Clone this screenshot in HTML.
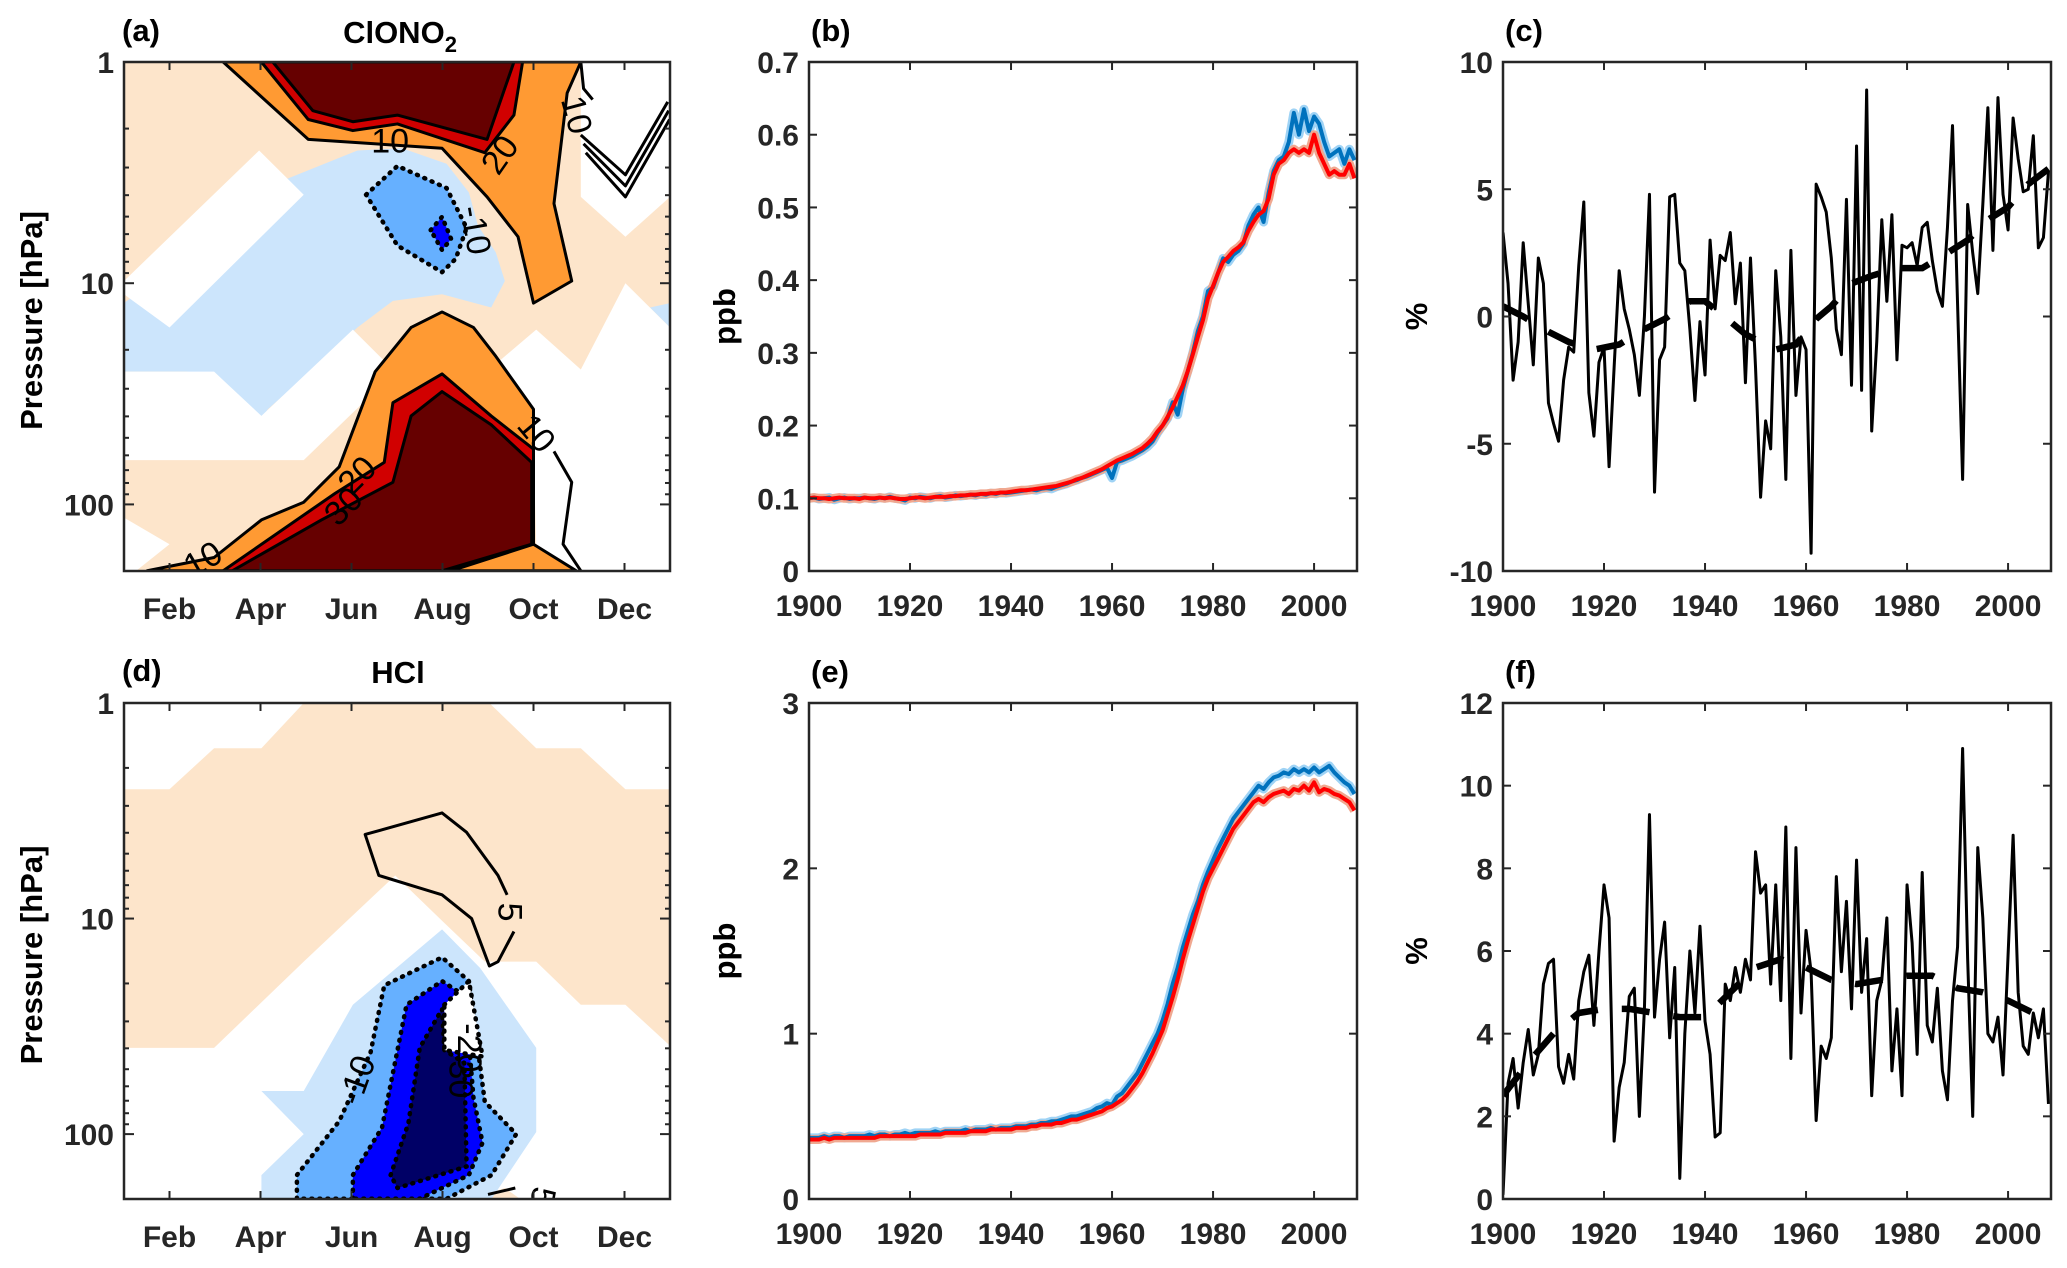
<!DOCTYPE html>
<html><head><meta charset="utf-8">
<style>
html,body{margin:0;padding:0;background:#fff;}
svg{display:block;font-family:"Liberation Sans",Arial,sans-serif;}
.tk{font-size:30px;font-weight:bold;fill:#262626;}
.lab{font-size:31px;font-weight:bold;fill:#000;}
.cl{font-size:34px;fill:#000;}
</style></head>
<body>
<svg id="fig" width="2067" height="1268" viewBox="0 0 2067 1268" xmlns="http://www.w3.org/2000/svg"></svg>
<script>
// ---------- data: time series (1900..2008) ----------
const years0 = 1900;
const bBlue = [.100,.101,.099,.100,.101,.098,.100,.101,.099,.100,
 .100,.101,.100,.099,.101,.100,.102,.100,.099,.097,
 .101,.100,.102,.101,.100,.102,.103,.101,.102,.104,
 .103,.104,.105,.104,.106,.105,.107,.106,.108,.107,
 .108,.109,.110,.111,.112,.111,.113,.114,.113,.116,
 .118,.120,.123,.125,.128,.130,.133,.136,.139,.142,
 .128,.150,.152,.155,.158,.162,.166,.171,.178,.190,
 .200,.210,.232,.215,.250,.275,.300,.330,.350,.385,
 .390,.410,.430,.425,.435,.440,.450,.475,.490,.500,
 .480,.520,.550,.565,.570,.590,.630,.600,.635,.605,
 .625,.615,.590,.570,.575,.580,.560,.580,.565];
const bRed = [.100,.101,.100,.100,.099,.100,.101,.100,.100,.100,
 .099,.101,.100,.100,.101,.100,.101,.100,.099,.099,
 .100,.101,.101,.100,.101,.102,.102,.102,.103,.103,
 .104,.104,.105,.105,.106,.106,.107,.107,.108,.108,
 .109,.110,.111,.111,.112,.113,.114,.115,.116,.117,
 .119,.121,.123,.126,.128,.131,.134,.137,.140,.144,
 .148,.152,.155,.158,.161,.165,.169,.175,.182,.192,
 .200,.212,.225,.240,.255,.275,.298,.322,.345,.375,
 .392,.410,.425,.432,.440,.445,.452,.468,.480,.490,
 .495,.512,.545,.560,.565,.575,.580,.575,.580,.575,
 .600,.575,.560,.545,.550,.545,.545,.560,.540];
const eBlue = [.37,.37,.37,.38,.37,.38,.38,.37,.38,.38,
 .38,.38,.39,.38,.39,.39,.38,.39,.39,.40,
 .39,.40,.40,.40,.40,.41,.40,.41,.41,.41,
 .41,.42,.41,.42,.42,.42,.43,.42,.43,.43,
 .43,.44,.44,.44,.45,.45,.46,.46,.47,.47,
 .48,.49,.50,.50,.51,.52,.53,.55,.56,.58,
 .57,.62,.64,.68,.72,.76,.82,.88,.94,1.00,
 1.08,1.18,1.30,1.40,1.52,1.62,1.72,1.80,1.90,1.98,
 2.05,2.12,2.18,2.24,2.30,2.34,2.38,2.42,2.46,2.50,
 2.48,2.52,2.55,2.56,2.58,2.57,2.60,2.58,2.60,2.58,
 2.61,2.58,2.60,2.62,2.58,2.55,2.52,2.50,2.45];
const eRed = [.36,.36,.36,.37,.36,.37,.37,.37,.37,.37,
 .37,.37,.37,.37,.38,.38,.38,.38,.38,.38,
 .38,.38,.39,.39,.39,.39,.39,.40,.40,.40,
 .40,.40,.41,.41,.41,.41,.42,.42,.42,.42,
 .42,.43,.43,.43,.44,.44,.45,.45,.45,.46,
 .46,.47,.48,.48,.49,.50,.51,.52,.53,.55,
 .56,.58,.60,.63,.67,.71,.76,.82,.88,.95,
 1.02,1.12,1.22,1.33,1.45,1.56,1.66,1.76,1.86,1.94,
 2.00,2.06,2.12,2.18,2.24,2.28,2.32,2.36,2.40,2.42,
 2.40,2.43,2.45,2.46,2.47,2.45,2.48,2.47,2.50,2.47,
 2.52,2.46,2.48,2.47,2.45,2.44,2.42,2.40,2.35];
const cVals = [3.3,1.3,-2.5,-1.0,2.9,0.5,-1.9,2.3,1.3,-3.4,
 -4.2,-4.9,-2.5,-1.2,-1.4,2.0,4.5,-3.0,-4.7,-1.8,
 -1.2,-5.9,-2.0,1.8,0.3,-0.5,-1.5,-3.1,0.0,4.8,
 -6.9,-1.7,-1.2,4.7,4.8,2.1,1.8,-0.5,-3.3,-0.2,
 -2.3,3.0,0.3,2.4,2.2,3.3,0.5,2.1,-2.6,2.3,
 -2.0,-7.1,-4.1,-5.2,1.8,-0.8,-6.4,2.6,-3.1,-0.8,
 -1.3,-9.3,5.2,4.7,4.1,2.3,-0.5,-1.5,4.6,-2.7,
 6.7,-2.9,8.9,-4.5,-1.0,3.8,0.6,4.0,-1.7,2.8,
 2.7,2.9,2.0,3.5,3.7,2.2,1.0,0.4,3.5,7.5,
 0.5,-6.4,4.4,2.5,0.9,4.4,8.2,2.6,8.6,4.8,
 3.4,7.8,6.2,4.9,5.0,7.1,2.7,3.1,5.7];
const cTrendYears = [1900,1904,1909,1913,1918,1923,1928,1932,1937,1940,1945,1948,1954,1958,1962,1965,1969,1973,1978,1983,1988,1992,1996,2000,2004,2008];
const cTrendVals  = [0.4,0.0,-0.6,-1.0,-1.3,-1.1,-0.5,-0.1,0.6,0.6,-0.2,-0.7,-1.3,-1.1,-0.1,0.4,1.3,1.6,1.9,1.9,2.5,3.0,3.8,4.3,5.2,5.8];
const fVals = [0.1,2.8,3.4,2.2,3.3,4.1,3.0,3.5,5.2,5.7,
 5.8,3.2,2.8,3.5,2.9,4.8,5.5,5.9,4.2,6.0,
 7.6,6.8,1.4,2.7,3.3,4.9,5.1,2.0,4.6,9.3,
 4.4,5.8,6.7,3.9,5.6,0.5,4.0,6.0,4.5,6.6,
 4.3,3.5,1.5,1.6,5.2,4.8,5.6,5.0,5.8,5.3,
 8.4,7.4,7.6,5.2,7.6,4.8,9.0,3.4,8.5,4.5,
 6.5,5.5,1.9,3.7,3.4,3.9,7.8,5.5,7.2,4.6,
 8.2,5.0,6.3,2.5,4.8,5.3,6.8,3.1,4.6,2.5,
 7.6,6.2,3.5,7.9,4.2,3.8,5.1,3.1,2.4,4.8,
 6.1,10.9,5.8,2.0,8.5,6.8,4.0,3.8,4.4,3.0,
 5.9,8.8,5.0,3.7,3.5,4.5,3.9,4.6,2.3];
const fTrendYears = [1900,1905,1910,1915,1920,1925,1930,1935,1940,1945,1950,1955,1960,1965,1970,1975,1980,1985,1990,1995,2000,2005,2008];
const fTrendVals  = [2.5,3.3,4.0,4.5,4.6,4.6,4.5,4.4,4.4,5.0,5.6,5.8,5.6,5.3,5.2,5.3,5.4,5.4,5.1,5.0,4.8,4.5,4.3];
const yearTicks = [1900,1920,1940,1960,1980,2000];
const bTicks = [0,0.1,0.2,0.3,0.4,0.5,0.6,0.7];
const eTicks = [0,1,2,3];
const cTicks = [-10,-5,0,5,10];
const fTicks = [0,2,4,6,8,10,12];
const monthTicks = [2,4,6,8,10,12];
const monthLabels = ['Feb','Apr','Jun','Aug','Oct','Dec'];
const pTicks = [1,10,100];

// ---------- data: contour regions [month, log10(p)] ----------
const aLightBlue = [[1,1.09],[4.56,0.53],[6.13,0.40],[7.11,0.39],[8.09,0.46],[8.58,0.59],[8.78,0.74],[9.17,0.86],[9.37,0.99],[9.07,1.11],[7.99,1.05],[6.91,1.08],[6.13,1.2],[5.15,1.39],[4.16,1.57],[3.77,1.70],[2.98,1.57],[2.39,1.4],[1,1.4]];
const aLightBlue2 = [[12.56,1.11],[13,1.09],[13,1.2]];
const aWhite1 = [[1,0.99],[3.97,0.40],[4.95,0.60],[2,1.2],[1,1.05]];
const aWhite2 = [[1,1.4],[2.98,1.4],[4.02,1.6],[6.03,1.21],[6.96,1.4],[4.95,1.8],[1,1.8]];
const aWhite3 = [[1,2.06],[2,2.18],[1.27,2.3],[1,2.3]];
const aWhite4 = [[11.04,0],[13,0],[13,0.61],[12.02,0.79],[11.04,0.61]];
const aWhite5 = [[9.03,1.39],[10.06,1.21],[11.04,1.39],[12.02,1.0],[13,1.2],[13,2.3],[10.94,2.3],[10.06,2.18],[10.0,1.75],[9.27,1.55]];
const aOrange1 = [[3.18,0],[5.05,0.35],[7.99,0.39],[8.98,0.61],[9.66,0.79],[10.0,1.09],[10.84,0.99],[10.45,0.64],[10.74,0.14],[11.04,0]];
const aRed1 = [[4.02,0],[5.05,0.26],[6.03,0.31],[7.01,0.28],[8.93,0.41],[9.57,0.24],[9.76,0]];
const aDark1 = [[4.27,0],[5.15,0.22],[6.03,0.27],[7.01,0.24],[8.98,0.35],[9.57,0]];
const aOrange2 = [[1.51,2.3],[2.98,2.24],[4.02,2.07],[4.95,1.99],[5.73,1.83],[6.52,1.4],[7.31,1.2],[7.99,1.13],[8.68,1.2],[9.17,1.33],[10.0,1.57],[10.0,2.18],[10.94,2.3]];
const aRed2 = [[3.18,2.3],[5.64,1.95],[6.72,1.81],[6.91,1.54],[7.99,1.41],[9.07,1.6],[10.0,1.75],[10,2.18],[8.19,2.3]];
const aDark2 = [[3.38,2.3],[5.34,2.07],[6.91,1.9],[7.31,1.6],[7.99,1.49],[9.07,1.64],[9.96,1.81],[9.96,2.18],[7.99,2.3]];
const aMedBlue = [[6.32,0.6],[7.01,0.47],[8.09,0.57],[8.53,0.75],[8.29,0.89],[7.99,0.95],[7.01,0.83]];
const aBlue = [[7.74,0.76],[7.99,0.70],[8.19,0.80],[7.99,0.85]];
const aLine10r = [[10.45,1.76],[10.84,1.9],[10.65,2.18],[11.04,2.3]];
const aV1 = [[11.04,0.33],[12.02,0.51],[12.95,0.18]];
const aV2 = [[11.1,0.37],[12.02,0.56],[12.97,0.22]];
const aV3 = [[11.15,0.41],[12.02,0.61],[12.99,0.26]];
const aV0 = [[11.04,0],[11.1,0.12],[11.3,0.17]];

const dPeach = [[1,0.40],[2,0.40],[2.98,0.21],[4.02,0.21],[4.95,0],[9.03,0],[10.06,0.21],[11.04,0.21],[12.02,0.40],[13,0.40],[13,1.59],[12.02,1.40],[11.04,1.40],[10.06,1.2],[8.93,1.2],[7.99,1.01],[6.96,0.8],[4.95,1.2],[2.98,1.6],[1,1.6]];
const dPeach2 = [[8.68,2.3],[9.37,2.25],[9.7,2.3]];
const dLightBlue = [[4.02,2.3],[4.02,2.19],[4.95,2],[4.02,1.8],[4.95,1.8],[6.03,1.4],[7.99,1.05],[8.83,1.23],[10.06,1.6],[10.06,1.99],[9.08,2.3]];
const dMedBlue = [[4.8,2.3],[4.8,2.19],[5.73,1.94],[6.42,1.62],[6.72,1.31],[7.99,1.18],[8.58,1.29],[8.93,1.85],[9.62,2.0],[9.08,2.19],[8.09,2.3]];
const dBlue = [[6.03,2.3],[6.03,2.19],[6.67,1.97],[7.21,1.40],[7.99,1.29],[8.5,1.36],[8.68,1.83],[8.88,2.04],[8.58,2.19],[7.5,2.3]];
const dNavy = [[6.86,2.19],[7.25,1.95],[7.5,1.6],[7.99,1.42],[8.04,1.61],[8.48,1.67],[8.53,2.15],[7.01,2.25]];
const dWhite = [[8.04,1.40],[8.58,1.29],[8.88,1.64],[8.04,1.61]];
const dLine5 = [[9.42,0.89],[9.22,0.8],[8.53,0.6],[7.99,0.51],[6.3,0.61],[6.6,0.8],[7.99,0.89],[8.64,1.0],[9.03,1.22],[9.22,1.2],[9.57,1.06]];

// ---------- drawing ----------
const NS='http://www.w3.org/2000/svg';
const svg=document.getElementById('fig');
function el(tag,attrs,parent){const e=document.createElementNS(NS,tag);for(const k in attrs)e.setAttribute(k,attrs[k]);(parent||svg).appendChild(e);return e;}

const panels = {
 a:{x0:124,x1:670,y0:62,y1:571}, b:{x0:809,x1:1357,y0:62,y1:571}, c:{x0:1503,x1:2051,y0:62,y1:571},
 d:{x0:124,x1:670,y0:703,y1:1199}, e:{x0:809,x1:1357,y0:703,y1:1199}, f:{x0:1503,x1:2051,y0:703,y1:1199}
};
const LPMAX=Math.log10(200);
function mx(P,m){return P.x0+(m-1)/12*(P.x1-P.x0);}
function my(P,lp){return P.y0+lp/LPMAX*(P.y1-P.y0);}
function yx(P,y){return P.x0+(y-1900)/108.5*(P.x1-P.x0);}
function vy(P,v,lo,hi){return P.y1-(v-lo)/(hi-lo)*(P.y1-P.y0);}

function clipFor(id,P){const cp=el('clipPath',{id:'clip'+id});el('rect',{x:P.x0,y:P.y0,width:P.x1-P.x0,height:P.y1-P.y0},cp);return 'url(#clip'+id+')';}

function poly(g,P,pts,fill,name,stroke,dash){
 const e=el('polygon',{points:pts.map(p=>mx(P,p[0])+','+my(P,p[1])).join(' '),fill:fill,stroke:stroke||'none','stroke-width':stroke?3:0,'stroke-linejoin':'round'},g);
 if(dash){e.setAttribute('stroke-dasharray','1 7');e.setAttribute('stroke-linecap','round');e.setAttribute('stroke-width',4.5);}
 
 
 return e;
}
function pline(g,P,pts,name,dash){
 const e=el('polyline',{points:pts.map(p=>mx(P,p[0])+','+my(P,p[1])).join(' '),fill:'none',stroke:'#000','stroke-width':3,'stroke-linejoin':'round'},g);
 if(dash){e.setAttribute('stroke-dasharray','1 7');e.setAttribute('stroke-linecap','round');e.setAttribute('stroke-width',4.5);}
 
 
}
function clabel(g,P,m,lp,txt,rot){
 const x=mx(P,m),y=my(P,lp);
 const t=el('text',{x:x,y:y,'class':'cl','text-anchor':'middle','dominant-baseline':'central',transform:'rotate('+rot+' '+x+' '+y+')'},g);
 t.textContent=txt;
 
 
}
function frame(P,name){
 const r=el('rect',{x:P.x0,y:P.y0,width:P.x1-P.x0,height:P.y1-P.y0,fill:'none',stroke:'#262626','stroke-width':2.5});
 
 
}
function text(x,y,txt,cls,anchor,name,extra){
 const t=el('text',Object.assign({x:x,y:y,'class':cls,'text-anchor':anchor||'middle'},extra||{}));
 t.textContent=txt;
 
 
 return t;
}
function tickLine(x1,y1,x2,y2){const l=el('line',{x1:x1,y1:y1,x2:x2,y2:y2,stroke:'#262626','stroke-width':2});}

const C={peach:'#FDE5CB',lb:'#CCE5FC',mb:'#66B0FF',bl:'#0000FF',navy:'#000066',or:'#FF9A33',red:'#D10000',dr:'#660000'};

function monthAxes(P,key){
 monthTicks.forEach((m,i)=>{const x=mx(P,m);tickLine(x,P.y1,x,P.y1-8);tickLine(x,P.y0,x,P.y0+8);
  text(x,P.y1+48,monthLabels[i],'tk','middle','x-tick-label');});
 for(let d=0;d<=2;d++){for(let k=1;k<10;k++){const lp=d+Math.log10(k);if(lp>LPMAX)break;const y=my(P,lp);const len=k==1?10:5;
   tickLine(P.x0,y,P.x0+len,y);tickLine(P.x1,y,P.x1-len,y);}}
 pTicks.forEach(p=>text(P.x0-10,my(P,Math.log10(p))+11,String(p),'tk','end','y-tick-label'));
 const cx=42,cy=(P.y0+P.y1)/2+4;
 text(cx,cy,'Pressure [hPa]','lab','middle','y-axis-title',{transform:'rotate(-90 '+cx+' '+cy+')'});
}
function yearAxes(P,ticks,lo,hi,fmt,ytitle,tx){
 yearTicks.forEach(y=>{const x=yx(P,y);tickLine(x,P.y1,x,P.y1-8);tickLine(x,P.y0,x,P.y0+8);
  text(x,P.y1+45,String(y),'tk','middle','x-tick-label');});
 ticks.forEach(v=>{const y=vy(P,v,lo,hi);tickLine(P.x0,y,P.x0+8,y);tickLine(P.x1,y,P.x1-8,y);
  text(P.x0-10,y+11,fmt(v),'tk','end','y-tick-label');});
 const cy=(P.y0+P.y1)/2;
 text(tx,cy,ytitle,'lab','middle','y-axis-title',{transform:'rotate(-90 '+tx+' '+cy+')'});
}
function series(P,vals,lo,hi,color,w,name,g){
 const pts=vals.map((v,i)=>yx(P,years0+i)+','+vy(P,v,lo,hi)).join(' ');
 const e=el('polyline',{points:pts,fill:'none',stroke:color,'stroke-width':w,'stroke-linejoin':'round'},g);
 
 
}
function trend(P,ys,vs,lo,hi,name,g){
 const pts=ys.map((y,i)=>yx(P,y)+','+vy(P,vs[i],lo,hi)).join(' ');
 const e=el('polyline',{points:pts,fill:'none',stroke:'#000','stroke-width':6.5,'stroke-dasharray':'28 24'},g);
 
 
}

// Panel a
(function(){
 const P=panels.a;const g=el('g',{'clip-path':clipFor('a',P)});
 
 
 const bg=el('rect',{x:P.x0,y:P.y0,width:P.x1-P.x0,height:P.y1-P.y0,fill:C.peach},g);
 
 
 poly(g,P,aLightBlue,C.lb,'region-light-blue');poly(g,P,aLightBlue2,C.lb,'region-light-blue');
 poly(g,P,aWhite1,'#fff','region-white');poly(g,P,aWhite2,'#fff','region-white');poly(g,P,aWhite3,'#fff','region-white');
 poly(g,P,aWhite4,'#fff','region-white');poly(g,P,aWhite5,'#fff','region-white');
 poly(g,P,aOrange1,C.or,'region-orange','#000');poly(g,P,aRed1,C.red,'region-red','#000');poly(g,P,aDark1,C.dr,'region-dark-red','#000');
 poly(g,P,aOrange2,C.or,'region-orange','#000');poly(g,P,aRed2,C.red,'region-red','#000');poly(g,P,aDark2,C.dr,'region-dark-red','#000');
 poly(g,P,aMedBlue,C.mb,'region-medium-blue','#000',true);poly(g,P,aBlue,C.bl,'region-blue','#000',true);
 pline(g,P,aLine10r,'contour-10');pline(g,P,aV0,'contour-line');pline(g,P,aV1,'contour-line');pline(g,P,aV2,'contour-line');pline(g,P,aV3,'contour-line');
 [[6.85,0.36,'10',0],[9.27,0.42,'20',-55],[8.72,0.76,'-10',80],[10.06,1.68,'10',50],[6.13,1.87,'20',-45],[5.83,2.01,'30',-45],[2.74,2.25,'10',-30],[10.94,0.24,'10',75]].forEach(l=>clabel(g,P,l[0],l[1],l[2],l[3]));
 frame(P,'panel-a-frame');monthAxes(P,'a');
 text(P.x0-2,41,'(a)','lab','start','panel-label-a');
 const t=text(400,43,'ClONO','lab','middle','panel-title-a',{'font-size':'32'});
 const s=el('tspan',{dy:9,'font-size':'22'},t);s.textContent='2';
})();
// Panel d
(function(){
 const P=panels.d;const g=el('g',{'clip-path':clipFor('d',P)});
 
 
 poly(g,P,dPeach,C.peach,'region-peach');poly(g,P,dPeach2,C.peach,'region-peach');
 poly(g,P,dLightBlue,C.lb,'region-light-blue');poly(g,P,dMedBlue,C.mb,'region-medium-blue','#000',true);
 poly(g,P,dBlue,C.bl,'region-blue','#000',true);poly(g,P,dNavy,C.navy,'region-navy','#000',true);
 poly(g,P,dWhite,'#fff','region-white','#000',true);
 pline(g,P,dLine5,'contour-5');
 pline(g,P,[[9.0,2.28],[9.6,2.25]],'contour-5');
 [[9.47,0.97,'5',90],[6.13,1.75,'-10',-70],[8.58,1.6,'-20',90],[8.4,1.72,'-30',90],[10.2,2.29,'5',100]].forEach(l=>clabel(g,P,l[0],l[1],l[2],l[3]));
 frame(P,'panel-d-frame');monthAxes(P,'d');
 text(P.x0-2,681,'(d)','lab','start','panel-label-d');
 text(398,683,'HCl','lab','middle','panel-title-d',{'font-size':'32'});
})();
// Panel b
(function(){
 const P=panels.b;const g=el('g',{'clip-path':clipFor('b',P)});
 
 
 series(P,bBlue,0,0.7,'#9FD3F5',9,'blue-uncertainty-band',g);
 series(P,bRed,0,0.7,'#F0A890',9,'red-uncertainty-band',g);
 series(P,bBlue,0,0.7,'#0072BD',4,'series-blue',g);
 series(P,bRed,0,0.7,'#FF0000',4,'series-red',g);
 frame(P,'panel-b-frame');
 yearAxes(P,bTicks,0,0.7,v=>v===0?'0':v.toFixed(1),'ppb',735);
 text(P.x0+2,41,'(b)','lab','start','panel-label-b');
})();
// Panel e
(function(){
 const P=panels.e;const g=el('g',{'clip-path':clipFor('e',P)});
 
 
 series(P,eBlue,0,3,'#9FD3F5',9,'blue-uncertainty-band',g);
 series(P,eRed,0,3,'#F0A890',9,'red-uncertainty-band',g);
 series(P,eBlue,0,3,'#0072BD',4,'series-blue',g);
 series(P,eRed,0,3,'#FF0000',4,'series-red',g);
 frame(P,'panel-e-frame');
 yearAxes(P,eTicks,0,3,v=>String(v),'ppb',735);
 text(P.x0+2,682,'(e)','lab','start','panel-label-e');
})();
// Panel c
(function(){
 const P=panels.c;const g=el('g',{'clip-path':clipFor('c',P)});
 
 
 series(P,cVals,-10,10,'#000',3,'series-percent',g);
 trend(P,cTrendYears,cTrendVals,-10,10,'trend-dashed',g);
 frame(P,'panel-c-frame');
 yearAxes(P,cTicks,-10,10,v=>String(v),'%',1427);
 text(P.x0+2,41,'(c)','lab','start','panel-label-c');
})();
// Panel f
(function(){
 const P=panels.f;const g=el('g',{'clip-path':clipFor('f',P)});
 
 
 series(P,fVals,0,12,'#000',3,'series-percent',g);
 trend(P,fTrendYears,fTrendVals,0,12,'trend-dashed',g);
 frame(P,'panel-f-frame');
 yearAxes(P,fTicks,0,12,v=>String(v),'%',1427);
 text(P.x0+2,682,'(f)','lab','start','panel-label-f');
})();
</script>
</body></html>
